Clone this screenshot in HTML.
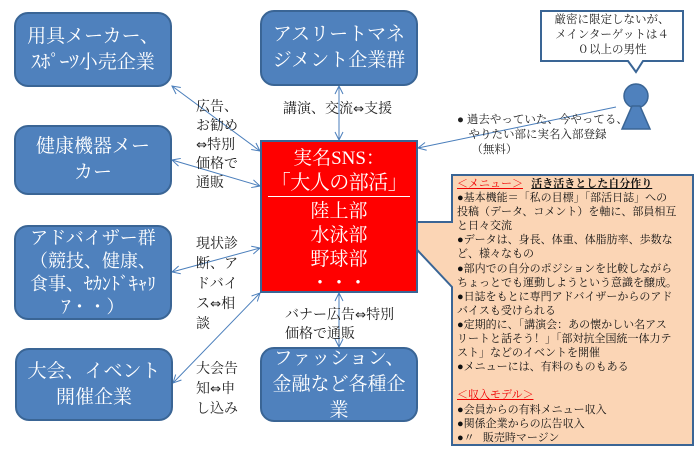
<!DOCTYPE html>
<html><head><meta charset="utf-8"><style>
body{margin:0;background:#fff;width:698px;height:458px;overflow:hidden;position:relative;font-family:"Liberation Serif","Noto Serif CJK SC","Noto Sans CJK JP",serif;}
.b{position:absolute;background:#4f81bd;border:2px solid #3a6595;border-radius:14px;color:#fff;font-size:19px;line-height:26px;text-align:center;display:flex;align-items:center;justify-content:center;box-sizing:border-box;}
.t{position:absolute;font-size:14px;line-height:19px;color:#222;white-space:nowrap;}
.d{font-family:"DejaVu Sans",sans-serif;font-size:0.95em;}
#red{position:absolute;left:260px;top:140px;width:158px;height:153px;background:#f00;border:2px solid #3a6595;box-sizing:border-box;color:#fff;text-align:center;font-size:19px;line-height:24px;white-space:nowrap;}
#menu{position:absolute;left:457px;top:177px;width:236px;font-size:11px;color:#111;white-space:nowrap;}
#menu div{height:14.1px;line-height:14.1px;overflow:visible;}
</style></head><body>
<svg width="698" height="458" style="position:absolute;left:0;top:0">
<defs><marker id="a" markerWidth="10" markerHeight="10" refX="9" refY="5" orient="auto-start-reverse" markerUnits="userSpaceOnUse"><path d="M1,1 L9,5 L1,9" fill="none" stroke="#4a7ebb" stroke-width="1"/></marker></defs>
<g stroke="#4a7ebb" stroke-width="1" fill="none" marker-start="url(#a)" marker-end="url(#a)">
<line x1="172" y1="86" x2="260" y2="151"/>
<line x1="172" y1="160" x2="260" y2="186"/>
<line x1="172" y1="272" x2="260" y2="248"/>
<line x1="173" y1="383" x2="260" y2="293"/>
<line x1="339" y1="86" x2="339" y2="140"/>
<line x1="339" y1="293" x2="339" y2="347"/>
</g>
<line x1="616" y1="107" x2="418" y2="148" stroke="#4a7ebb" stroke-width="1" marker-end="url(#a)"/>
<path d="M452,175 H693 V445 H452 V287 L391,222 H452 Z" fill="#fbd5b5" stroke="#3a6595" stroke-width="2"/>
<path d="M541,11 H683 V61 H643 L636,72 L628,61 H541 Z" fill="#fff" stroke="#3a6595" stroke-width="2"/>
<circle cx="636" cy="96" r="12" fill="#4f81bd" stroke="#3a6595" stroke-width="1.5"/>
<path d="M632,106 H640 L650,129 H622 Z" fill="#4f81bd" stroke="#3a6595" stroke-width="1.5"/>
</svg>
<div class="b" style="left:14px;top:12px;width:158px;height:75px">用具メーカー、<br>ｽﾎﾟｰﾂ小売企業</div>
<div class="b" style="left:14px;top:125px;width:158px;height:70px">健康機器メー<br>カー</div>
<div class="b" style="left:14px;top:225px;width:158px;height:95px;font-size:18px;line-height:23px">アドバイザー群<br>（競技、健康、<br>食事、ｾｶﾝﾄﾞｷｬﾘ<br>ｱ・・）</div>
<div class="b" style="left:15px;top:348px;width:158px;height:73px">大会、イベント<br>開催企業</div>
<div class="b" style="left:260px;top:10px;width:158px;height:76px">アスリートマネ<br>ジメント企業群</div>
<div class="b" style="left:260px;top:347px;width:158px;height:75px">ファッション、<br>金融など各種企<br>業</div>
<div id="red"><div style="margin-top:5px">実名SNS：</div><div style="font-size:20px;line-height:25px;border-bottom:1.5px solid #fff;margin:0 6px 3px;letter-spacing:-0.5px">「大人の部活」</div>陸上部<br>水泳部<br>野球部<br>・・・</div>
<div class="t" style="left:196px;top:98px">広告、<br>お勧め<br><span class="d">⇔</span>特別<br>価格で<br>通販</div>
<div class="t" style="left:283px;top:100px">講演、交流<span class="d">⇔</span>支援</div>
<div class="t" style="left:196px;top:235px;line-height:20px">現状診<br>断、ア<br>ドバイ<br>ス<span class="d">⇔</span>相<br>談</div>
<div class="t" style="left:196px;top:360px;line-height:20px">大会告<br>知<span class="d">⇔</span>申<br>し込み</div>
<div class="t" style="left:285px;top:306px;line-height:19px">バナー広告<span class="d">⇔</span>特別<br>価格で通販</div>
<div class="t" style="left:457px;top:113px;font-size:11.5px;line-height:15px">●&nbsp;過去やっていた、今やってる、<br>&nbsp;&nbsp;&nbsp;&nbsp;やりたい部に実名入部登録<br>&nbsp;&nbsp;&nbsp;&nbsp;&nbsp;（無料）</div>
<div class="t" style="left:541px;top:13px;width:142px;text-align:center;font-size:11.5px;line-height:15px">厳密に限定しないが、<br>メインターゲットは４<br>０以上の男性</div>
<div id="menu">
<div><span style="color:#e00;text-decoration:underline">＜メニュー＞</span>&nbsp;&nbsp;&nbsp;<span style="text-decoration:underline;font-weight:bold">活き活きとした自分作り</span></div>
<div>●基本機能＝「私の目標」「部活日誌」への</div>
<div>投稿（データ、コメント）を軸に、部員相互</div>
<div>と日々交流</div>
<div>●データは、身長、体重、体脂肪率、歩数な</div>
<div>ど、様々なもの</div>
<div>●部内での自分のポジションを比較しながら</div>
<div>ちょっとでも運動しようという意識を醸成。</div>
<div>●日誌をもとに専門アドバイザーからのアド</div>
<div>バイスも受けられる</div>
<div>●定期的に、「講演会：あの懐かしい名アス</div>
<div>リートと話そう！」「部対抗全国統一体力テ</div>
<div>スト」などのイベントを開催</div>
<div>●メニューには、有料のものもある</div>
<div></div>
<div><span style="color:#e00;text-decoration:underline">＜収入モデル＞</span></div>
<div>●会員からの有料メニュー収入</div>
<div>●関係企業からの広告収入</div>
<div>●〃&nbsp;&nbsp;&nbsp;販売時マージン</div>
</div>
</body></html>
